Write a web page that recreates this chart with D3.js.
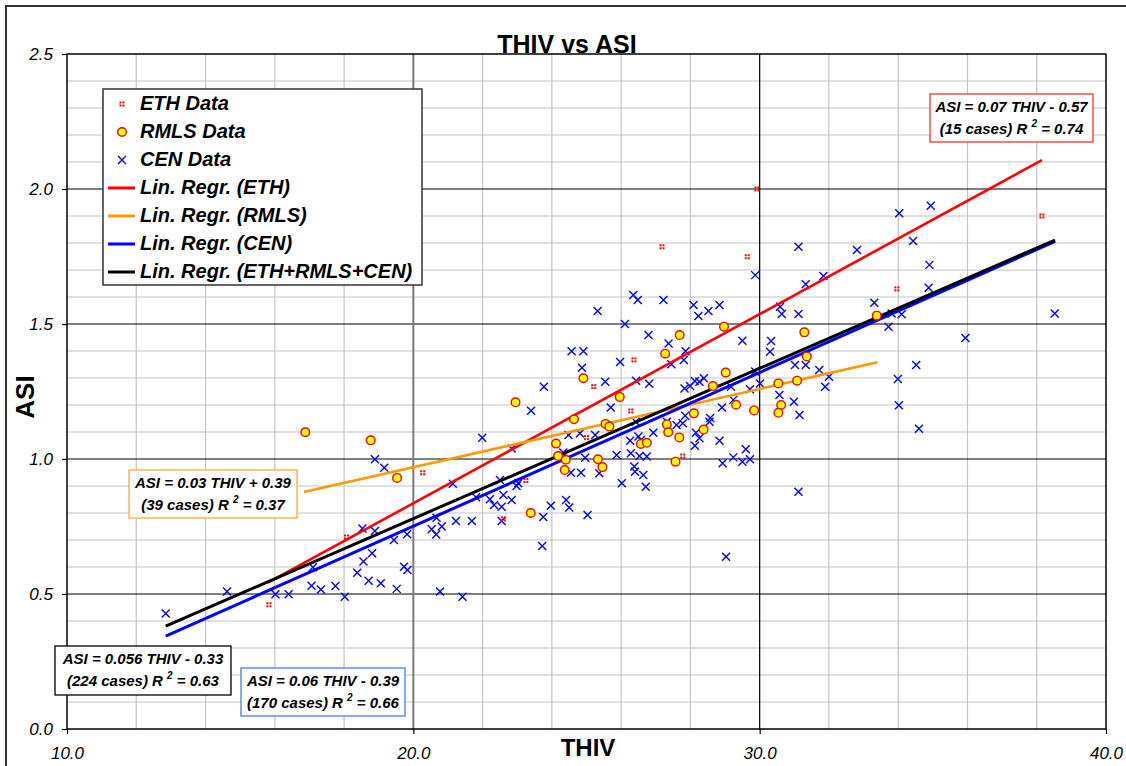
<!DOCTYPE html>
<html lang="en">
<head>
  <meta charset="UTF-8">
  <title>THIV vs ASI</title>
  <script src="https://d3js.org/d3.v7.min.js"></script>
  <style>
    body { margin: 0; background: #fff; }
    svg { display: block; font-family: "Liberation Sans", Arial, sans-serif; }
    .tick text { font-size: 17px; font-style: italic; fill: #000; }
    .tick line { stroke: #000; stroke-width: 1.2; }
    .domain { display: none; }
    .box text { font-size: 15px; font-weight: bold; font-style: italic; }
    .legend text { font-size: 20px; font-weight: bold; font-style: italic; }
  </style>
</head>
<body>
<svg width="1126" height="766"></svg>
<script>
// THIV, ASI pairs
const ethData = [
  [29.92, 2.00], [27.18, 1.786], [29.64, 1.749], [33.96, 1.63], [38.15, 1.90],
  [26.37, 1.367], [25.21, 1.268], [26.28, 1.178], [25.00, 1.079], [27.78, 1.011],
  [23.25, 0.920], [20.27, 0.949], [18.07, 0.711], [15.83, 0.460], [22.60, 0.778]
];

const rmlsData = [
  [16.88, 1.099], [18.77, 1.069], [19.53, 0.930], [22.95, 1.210], [24.91, 1.299],
  [24.64, 1.147], [24.12, 1.057], [24.18, 1.011], [24.40, 0.997], [24.37, 0.959],
  [23.39, 0.800], [25.33, 0.999], [25.46, 0.970], [25.55, 1.130], [25.66, 1.120],
  [25.96, 1.230], [26.57, 1.056], [26.74, 1.060], [27.27, 1.390], [27.69, 1.459],
  [27.32, 1.128], [27.36, 1.099], [27.68, 1.080], [27.57, 0.990], [28.10, 1.169],
  [28.38, 1.109], [28.65, 1.270], [28.97, 1.490], [29.02, 1.320], [29.32, 1.201],
  [29.84, 1.180], [31.29, 1.469], [31.36, 1.380], [30.54, 1.280], [31.08, 1.290],
  [30.62, 1.200], [30.54, 1.171], [33.38, 1.531]
];

const cenData = [
  [12.85, 0.428], [14.62, 0.509], [16.02, 0.499], [16.40, 0.499], [17.10, 0.599],
  [17.06, 0.531], [17.33, 0.517], [17.75, 0.530], [18.02, 0.490], [18.38, 0.579],
  [18.56, 0.620], [18.71, 0.549], [19.06, 0.540], [19.52, 0.519], [19.73, 0.601],
  [19.83, 0.589], [20.77, 0.509], [18.53, 0.743], [18.89, 0.733], [18.81, 0.651],
  [19.44, 0.700], [19.82, 0.721], [18.89, 0.999], [19.16, 0.968], [20.53, 0.740],
  [20.66, 0.720], [20.82, 0.750], [20.67, 0.782], [21.14, 0.908], [21.23, 0.770],
  [21.69, 0.770], [22.55, 0.770], [21.42, 0.490], [21.99, 1.079], [22.84, 1.039],
  [22.50, 0.922], [23.03, 0.910], [22.98, 0.900], [21.81, 0.858], [22.21, 0.851],
  [22.33, 0.830], [22.60, 0.867], [22.84, 0.848], [22.55, 0.823], [24.41, 0.848],
  [24.50, 0.820], [23.97, 0.827], [23.75, 0.785], [23.72, 0.678], [25.03, 0.793],
  [23.77, 1.268], [23.40, 1.179], [24.57, 1.399], [24.91, 1.399], [24.87, 1.338],
  [25.32, 1.548], [26.35, 1.607], [26.48, 1.589], [27.22, 1.589], [28.09, 1.570],
  [28.23, 1.530], [28.52, 1.548], [28.84, 1.570], [26.11, 1.500], [26.79, 1.459],
  [27.37, 1.428], [27.86, 1.399], [27.45, 1.351], [27.81, 1.367], [29.50, 1.438],
  [25.97, 1.359], [25.54, 1.286], [26.81, 1.279], [26.43, 1.290], [25.70, 1.191],
  [27.83, 1.261], [27.99, 1.270], [28.13, 1.289], [28.26, 1.286], [28.39, 1.299],
  [28.91, 1.191], [29.17, 1.268], [29.24, 1.219], [29.72, 1.258], [29.87, 1.681],
  [24.48, 1.089], [24.81, 1.095], [25.25, 1.089], [26.42, 1.138], [26.93, 1.097],
  [27.32, 1.138], [27.60, 1.126], [27.85, 1.160], [27.78, 1.132], [28.16, 1.097],
  [28.26, 1.077], [28.55, 1.138], [28.84, 1.068], [28.13, 1.049], [24.33, 1.024],
  [24.96, 1.005], [25.87, 1.015], [26.26, 1.068], [26.50, 1.083], [26.57, 1.070],
  [26.28, 1.021], [26.53, 1.011], [26.74, 1.009], [26.38, 0.972], [26.40, 0.953],
  [26.64, 0.941], [26.71, 0.897], [26.02, 0.910], [25.37, 0.947], [24.55, 0.949],
  [24.84, 0.949], [28.93, 0.984], [29.24, 1.006], [29.50, 0.990], [29.72, 0.999],
  [29.60, 1.036], [29.03, 0.638], [28.57, 1.152], [30.33, 1.437], [30.30, 1.397],
  [30.59, 1.564], [30.64, 1.537], [31.12, 1.786], [31.12, 1.537], [31.33, 1.647],
  [31.84, 1.678], [32.81, 1.774], [33.31, 1.579], [33.72, 1.490], [33.81, 1.539],
  [34.10, 1.536], [34.03, 1.910], [34.94, 1.938], [34.43, 1.807], [34.90, 1.719],
  [34.88, 1.634], [34.52, 1.348], [33.99, 1.296], [34.02, 1.199], [31.02, 1.348],
  [31.33, 1.348], [31.72, 1.330], [32.00, 1.305], [31.89, 1.268], [30.99, 1.212],
  [31.15, 1.163], [30.57, 1.237], [30.01, 1.280], [29.87, 1.324], [34.60, 1.112],
  [35.94, 1.448], [31.12, 0.879], [38.52, 1.539]
];

// regression line end points (THIV, ASI)
const regEth = [[15.80, 0.542], [38.15, 2.107]];
const regRmls = [[16.84, 0.878], [33.40, 1.358]];
const regCen = [[12.85, 0.344], [38.53, 1.806]];
const regAll = [[12.85, 0.381], [38.53, 1.811]];

const xTicks = [10, 20, 30, 40];
const yTicks = [0, 0.5, 1.0, 1.5, 2.0, 2.5];

const legendItems = [
  {label: "ETH Data", kind: "eth"},
  {label: "RMLS Data", kind: "rmls"},
  {label: "CEN Data", kind: "cen"},
  {label: "Lin. Regr. (ETH)", kind: "line", color: "#ff0000"},
  {label: "Lin. Regr. (RMLS)", kind: "line", color: "#ff9900"},
  {label: "Lin. Regr. (CEN)", kind: "line", color: "#0000ff"},
  {label: "Lin. Regr. (ETH+RMLS+CEN)", kind: "line", color: "#000000"}
];

const boxes = [
  {eq: "ASI = 0.07 THIV - 0.57", n: "(15 cases) R", r2: "0.74", color: "#ff3030", x0: 930, y0: 94, w: 163, h: 48},
  {eq: "ASI = 0.03 THIV + 0.39", n: "(39 cases) R", r2: "0.37", color: "#ffaa33", x0: 129, y0: 470, w: 168, h: 48},
  {eq: "ASI = 0.056 THIV - 0.33", n: "(224 cases) R", r2: "0.63", color: "#000000", x0: 55, y0: 646, w: 176, h: 49},
  {eq: "ASI = 0.06 THIV - 0.39", n: "(170 cases) R", r2: "0.66", color: "#4a78ff", x0: 241, y0: 668, w: 164, h: 48}
];

const svg = d3.select("svg");
const plot = {left: 67, top: 54, right: 1106, bottom: 729};

const x = d3.scaleLinear().domain([10, 40]).range([plot.left, plot.right]);
const y = d3.scaleLinear().domain([0, 2.5]).range([plot.bottom, plot.top]);

// outer chart frame
svg.append("rect")
  .attr("x", 6).attr("y", 6).attr("width", 1140).attr("height", 780)
  .attr("fill", "none").attr("stroke", "#333").attr("stroke-width", 2);

// minor grid
const g = svg.append("g");
g.selectAll(".vminor")
  .data(d3.range(12, 40, 2).filter(d => d % 10 !== 0))
  .enter().append("line")
    .attr("x1", d => x(d)).attr("x2", d => x(d))
    .attr("y1", plot.top).attr("y2", plot.bottom)
    .attr("stroke", "#c4c4c4").attr("stroke-width", 1.2);
g.selectAll(".hminor")
  .data(d3.range(1, 25).filter(d => d % 5 !== 0).map(d => d / 10))
  .enter().append("line")
    .attr("x1", plot.left).attr("x2", plot.right)
    .attr("y1", d => y(d)).attr("y2", d => y(d))
    .attr("stroke", "#c4c4c4").attr("stroke-width", 1.2);

// major grid
g.selectAll(".hmajor")
  .data([0.5, 1.0, 1.5, 2.0])
  .enter().append("line")
    .attr("x1", plot.left).attr("x2", plot.right)
    .attr("y1", d => y(d)).attr("y2", d => y(d))
    .attr("stroke", "#000").attr("stroke-width", 1.2);
g.append("line")
  .attr("x1", x(20)).attr("x2", x(20)).attr("y1", plot.top).attr("y2", plot.bottom)
  .attr("stroke", "#7a7a7a").attr("stroke-width", 2);
g.append("line")
  .attr("x1", x(30)).attr("x2", x(30)).attr("y1", plot.top).attr("y2", plot.bottom)
  .attr("stroke", "#000").attr("stroke-width", 1.2);

// plot border
svg.append("rect")
  .attr("x", plot.left).attr("y", plot.top)
  .attr("width", plot.right - plot.left).attr("height", plot.bottom - plot.top)
  .attr("fill", "none").attr("stroke", "#000").attr("stroke-width", 1.5);

// axes
svg.append("g")
  .attr("transform", `translate(${plot.left},0)`)
  .call(d3.axisLeft(y).tickValues(yTicks).tickFormat(d3.format(".1f")).tickSize(5).tickPadding(9));
svg.append("g")
  .attr("transform", `translate(0,${plot.bottom})`)
  .call(d3.axisBottom(x).tickValues(xTicks).tickFormat(d3.format(".1f")).tickSize(5).tickPadding(13));

// CEN points
const cross = 4;
const cen = svg.append("g").attr("stroke", "#0000ff").attr("stroke-width", 1.4);
cen.selectAll("path")
  .data(cenData)
  .enter().append("path")
    .attr("d", d => {
      const cx = x(d[0]), cy = y(d[1]);
      return `M${cx - cross},${cy - cross}L${cx + cross},${cy + cross}M${cx - cross},${cy + cross}L${cx + cross},${cy - cross}`;
    });

// regression lines
const line = d3.line().x(d => x(d[0])).y(d => y(d[1]));
[[regEth, "#ff0000", 2.6], [regRmls, "#ff9900", 2.6], [regCen, "#0000ff", 3], [regAll, "#000000", 3]]
  .forEach(([pts, col, w]) => {
    svg.append("path").datum(pts)
      .attr("d", line).attr("fill", "none")
      .attr("stroke", col).attr("stroke-width", w);
  });

// RMLS points
svg.append("g").selectAll("circle")
  .data(rmlsData)
  .enter().append("circle")
    .attr("cx", d => x(d[0])).attr("cy", d => y(d[1])).attr("r", 4.3)
    .attr("fill", "#ffff00").attr("stroke", "#ff0000").attr("stroke-width", 1.4);

// ETH points (small dotted squares)
function ethMarker(sel, cx, cy) {
  [[-2.5, -2.5], [0.5, -2.5], [-2.5, 0.5], [0.5, 0.5]].forEach(o => {
    sel.append("rect")
      .attr("x", cx + o[0]).attr("y", cy + o[1])
      .attr("width", 2).attr("height", 2).attr("fill", "#ff0000");
  });
}
const eth = svg.append("g");
ethData.forEach(d => ethMarker(eth, x(d[0]), y(d[1])));

// equation boxes
boxes.forEach(b => {
  const bg = svg.append("g").attr("class", "box");
  bg.append("rect")
    .attr("x", b.x0).attr("y", b.y0).attr("width", b.w).attr("height", b.h)
    .attr("fill", "#fff").attr("stroke", b.color).attr("stroke-width", 1.3);
  const cx = b.x0 + b.w / 2;
  bg.append("text").attr("x", cx).attr("y", b.y0 + 18)
    .attr("text-anchor", "middle").text(b.eq);
  const t = bg.append("text").attr("x", cx).attr("y", b.y0 + 40)
    .attr("text-anchor", "middle");
  t.append("tspan").text(b.n + " ");
  t.append("tspan").attr("dy", -7).style("font-size", "10px").text("2");
  t.append("tspan").attr("dy", 7).text("  = " + b.r2);
});

// legend
const lg = svg.append("g").attr("class", "legend");
lg.append("rect")
  .attr("x", 103).attr("y", 89).attr("width", 319).attr("height", 196)
  .attr("fill", "#fff").attr("stroke", "#333").attr("stroke-width", 1.5);
legendItems.forEach((item, i) => {
  const by = 110 + i * 28;
  const my = by - 6;
  if (item.kind === "eth") ethMarker(lg, 122, my);
  else if (item.kind === "rmls") {
    lg.append("circle").attr("cx", 122).attr("cy", my).attr("r", 4.3)
      .attr("fill", "#ffff00").attr("stroke", "#ff0000").attr("stroke-width", 1.4);
  } else if (item.kind === "cen") {
    lg.append("path")
      .attr("d", `M${122 - cross},${my - cross}L${122 + cross},${my + cross}M${122 - cross},${my + cross}L${122 + cross},${my - cross}`)
      .attr("stroke", "#0000ff").attr("stroke-width", 1.4);
  } else {
    lg.append("line").attr("x1", 108).attr("x2", 135).attr("y1", my).attr("y2", my)
      .attr("stroke", item.color).attr("stroke-width", 3);
  }
  lg.append("text").attr("x", 140).attr("y", by).text(item.label);
});

// titles
svg.append("text")
  .attr("x", 567).attr("y", 53).attr("text-anchor", "middle")
  .style("font-size", "25px").style("font-weight", "bold")
  .text("THIV vs ASI");
svg.append("text")
  .attr("x", 588).attr("y", 756).attr("text-anchor", "middle")
  .style("font-size", "24px").style("font-weight", "bold")
  .text("THIV");
svg.append("text")
  .attr("transform", "translate(34,397) rotate(-90)")
  .attr("text-anchor", "middle")
  .style("font-size", "26px").style("font-weight", "bold")
  .text("ASI");
</script>
</body>
</html>
